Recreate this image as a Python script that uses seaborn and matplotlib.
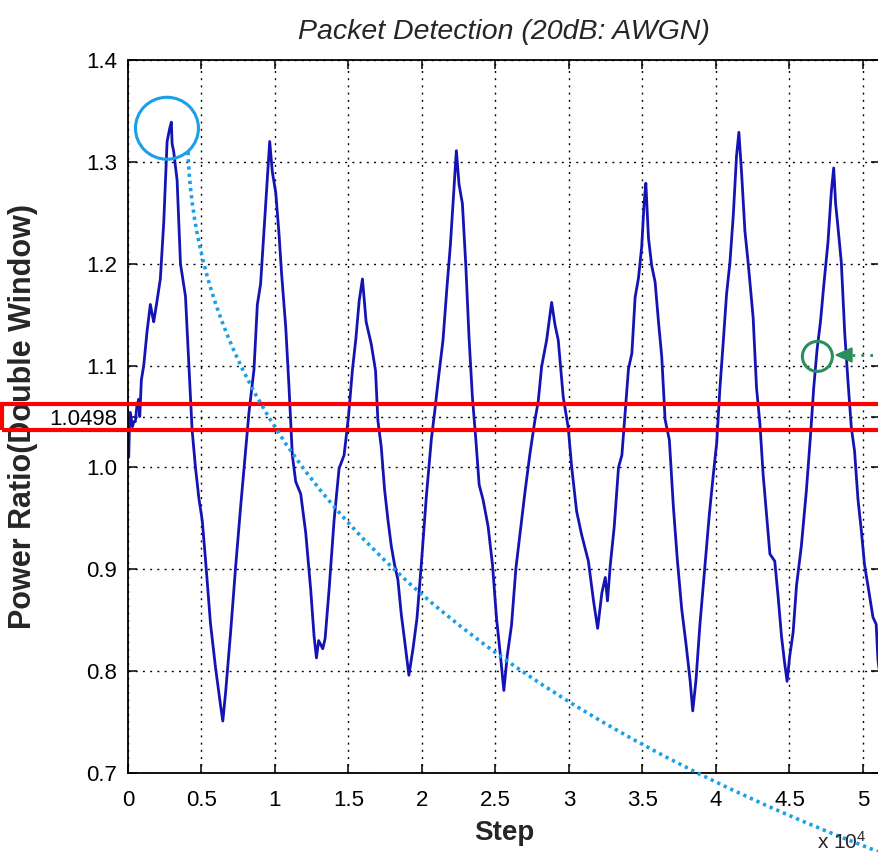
import numpy as np
import seaborn as sns
import matplotlib.pyplot as plt
import matplotlib.font_manager as fm
import matplotlib.transforms as mtrans
from matplotlib.patches import Ellipse, Rectangle, PathPatch, Polygon
from matplotlib.path import Path
from matplotlib.lines import Line2D

# step values in units of 10^4
step = [
    0.000, 0.005, 0.010, 0.016, 0.030, 0.040, 0.050, 0.060, 0.073, 0.080,
    0.091, 0.107, 0.130, 0.152, 0.165, 0.175, 0.198, 0.220, 0.243, 0.266,
    0.284, 0.295, 0.300, 0.311, 0.334, 0.357, 0.391, 0.414, 0.436, 0.459,
    0.482, 0.505, 0.527, 0.561, 0.595, 0.630, 0.645, 0.664, 0.698, 0.732,
    0.766, 0.800, 0.823, 0.857, 0.880, 0.902, 0.936, 0.964, 0.982, 1.005,
    1.027, 1.045, 1.073, 1.095, 1.118, 1.141, 1.175, 1.209, 1.243, 1.266,
    1.282, 1.297, 1.311, 1.325, 1.341, 1.368, 1.402, 1.436, 1.470, 1.500,
    1.527, 1.550, 1.573, 1.595, 1.620, 1.655, 1.684, 1.700, 1.723, 1.745,
    1.768, 1.791, 1.814, 1.836, 1.859, 1.882, 1.911, 1.939, 1.966, 1.995,
    2.030, 2.064, 2.086, 2.109, 2.143, 2.170, 2.193, 2.216, 2.234, 2.252,
    2.275, 2.298, 2.320, 2.343, 2.366, 2.389, 2.416, 2.450, 2.480, 2.507,
    2.534, 2.557, 2.580, 2.609, 2.639, 2.666, 2.700, 2.734, 2.768, 2.791,
    2.814, 2.848, 2.882, 2.905, 2.927, 2.961, 2.995, 3.018, 3.052, 3.086,
    3.132, 3.167, 3.195, 3.224, 3.247, 3.262, 3.281, 3.308, 3.337, 3.360,
    3.382, 3.405, 3.428, 3.450, 3.473, 3.495, 3.511, 3.523, 3.541, 3.563,
    3.586, 3.609, 3.631, 3.654, 3.683, 3.710, 3.738, 3.767, 3.796, 3.824,
    3.842, 3.864, 3.891, 3.925, 3.955, 3.982, 4.005, 4.027, 4.050, 4.072,
    4.095, 4.118, 4.140, 4.156, 4.174, 4.197, 4.219, 4.253, 4.276, 4.299,
    4.321, 4.344, 4.367, 4.400, 4.423, 4.446, 4.468, 4.484, 4.502, 4.525,
    4.548, 4.581, 4.615, 4.643, 4.665, 4.688, 4.711, 4.733, 4.762, 4.785,
    4.801, 4.814, 4.830, 4.853, 4.876, 4.898, 4.921, 4.943, 4.966, 4.989,
    5.011, 5.034, 5.068, 5.090, 5.102, 5.120,
]
power_ratio = [
    1.010, 1.010, 1.040, 1.054, 1.040, 1.045, 1.045, 1.060, 1.067, 1.050,
    1.086, 1.100, 1.134, 1.160, 1.150, 1.143, 1.164, 1.185, 1.240, 1.320,
    1.333, 1.339, 1.318, 1.310, 1.282, 1.200, 1.168, 1.100, 1.037, 1.000,
    0.970, 0.948, 0.910, 0.847, 0.804, 0.766, 0.751, 0.779, 0.838, 0.902,
    0.961, 1.016, 1.054, 1.096, 1.160, 1.180, 1.257, 1.320, 1.290, 1.270,
    1.230, 1.190, 1.138, 1.080, 1.012, 0.986, 0.974, 0.936, 0.880, 0.834,
    0.813, 0.830, 0.826, 0.822, 0.832, 0.880, 0.948, 0.999, 1.012, 1.050,
    1.096, 1.126, 1.164, 1.185, 1.143, 1.121, 1.095, 1.046, 1.020, 0.979,
    0.949, 0.923, 0.904, 0.890, 0.856, 0.830, 0.796, 0.822, 0.852, 0.904,
    0.972, 1.028, 1.054, 1.084, 1.125, 1.177, 1.218, 1.270, 1.311, 1.278,
    1.259, 1.199, 1.128, 1.069, 1.028, 0.983, 0.968, 0.942, 0.904, 0.852,
    0.815, 0.781, 0.815, 0.845, 0.901, 0.934, 0.975, 1.013, 1.046, 1.065,
    1.099, 1.125, 1.162, 1.140, 1.125, 1.069, 1.039, 1.001, 0.957, 0.934,
    0.908, 0.869, 0.842, 0.877, 0.892, 0.869, 0.904, 0.942, 1.000, 1.012,
    1.054, 1.097, 1.112, 1.167, 1.186, 1.217, 1.259, 1.279, 1.225, 1.198,
    1.182, 1.143, 1.109, 1.047, 1.027, 0.962, 0.908, 0.861, 0.827, 0.791,
    0.761, 0.791, 0.846, 0.904, 0.954, 0.993, 1.024, 1.078, 1.124, 1.170,
    1.201, 1.248, 1.306, 1.329, 1.290, 1.232, 1.201, 1.147, 1.078, 1.043,
    0.993, 0.954, 0.915, 0.908, 0.873, 0.834, 0.807, 0.790, 0.815, 0.838,
    0.884, 0.923, 0.977, 1.031, 1.078, 1.116, 1.143, 1.178, 1.221, 1.271,
    1.294, 1.259, 1.236, 1.201, 1.132, 1.085, 1.039, 1.016, 0.969, 0.938,
    0.904, 0.884, 0.853, 0.846, 0.811, 0.790,
]

threshold = 1.0498
x_ticks = [0, 0.5, 1, 1.5, 2, 2.5, 3, 3.5, 4, 4.5, 5]
x_tick_labels = ["0", "0.5", "1", "1.5", "2", "2.5", "3", "3.5", "4", "4.5", "5"]
y_ticks = [0.7, 0.8, 0.9, 1.0, threshold, 1.1, 1.2, 1.3, 1.4]
y_tick_labels = ["0.7", "0.8", "0.9", "1.0", "1.0498", "1.1", "1.2", "1.3", "1.4"]

sns.set_style("ticks")
names = {f.name for f in fm.fontManager.ttflist}
narrow = "Liberation Sans Narrow" in names
tick_font = "Liberation Sans Narrow" if narrow else "Liberation Sans"
tick_size = 18 if narrow else 16
plt.rcParams["font.family"] = [tick_font, "DejaVu Sans"]
plt.rcParams["mathtext.default"] = "regular"

W, H = 879, 852
fig = plt.figure(figsize=(W / 100, H / 100), dpi=100)
fig.patch.set_facecolor("white")
ax = fig.add_axes([128 / W, 79 / H, 752 / W, 713 / H])


def px(x, y):
    return (x / W, 1 - y / H)


sns.lineplot(x=np.array(step) * 1e4, y=power_ratio, ax=ax,
             color="#1414b4", linewidth=2.0)

ax.set_xlim(0, 5.116e4)
ax.set_ylim(0.7, 1.4)
ax.set_xticks(np.array(x_ticks) * 1e4, x_tick_labels)
ax.set_yticks(y_ticks, y_tick_labels)
ax.tick_params(direction="in", length=6.5, width=1.1, top=True, right=True,
               labelsize=tick_size, colors="black")
ax.tick_params(axis="y", pad=8)
ax.tick_params(axis="x", pad=12)
ax.grid(True, color="black", linestyle=(0, (1.4, 3.8)), linewidth=1.0)
for s in ax.spines.values():
    s.set_color("black")
    s.set_linewidth(1.3)
    s.set_visible(True)

ax.set_title("Packet Detection (20dB: AWGN)", fontsize=20.5, style="italic",
             family="Liberation Sans", pad=15)
ax.set_xlabel("Step", fontsize=20, fontweight="bold",
              family="Liberation Sans", labelpad=7)
ax.set_ylabel("Power Ratio(Double Window)", fontsize=22, fontweight="bold",
              family="Liberation Sans", labelpad=8)

fig.text(866 / W, 1 - 849 / H, r"x 10$^{4}$", fontsize=15,
         ha="right", va="baseline")

# red box around the threshold level
blend = mtrans.blended_transform_factory(fig.transFigure, ax.transData)
half = 13 / 1019
ax.add_patch(Rectangle((2 / W, threshold - half), 1.2, 2 * half,
                       transform=blend, fill=False, edgecolor="#ff0000",
                       linewidth=3, clip_on=False, zorder=5))

# blue circle at first peak and dotted curve
light_blue = "#1a9fe8"
ax.add_patch(Ellipse((0.265e4, 1.333), 63 / 147 * 1e4, 62 / 1019,
                     fill=False, edgecolor=light_blue, linewidth=2.2,
                     clip_on=False, zorder=5))
verts = [px(188, 152), px(200, 480), px(500, 710), px(890, 856)]
curve = Path(verts, [Path.MOVETO, Path.CURVE4, Path.CURVE4, Path.CURVE4])
fig.add_artist(PathPatch(curve, transform=fig.transFigure, fill=False,
                         edgecolor=light_blue, linewidth=2.6,
                         linestyle=(0, (0.9, 1.1)), capstyle="butt"))

# green circle with dotted arrow
green = "#2b8f5a"
ax.add_patch(Ellipse((4.69e4, 1.109), 30 / 147 * 1e4, 30 / 1019,
                     fill=False, edgecolor=green, linewidth=2.2,
                     clip_on=False, zorder=5))
fig.add_artist(Line2D([852 / W, 1.0], [1 - 355 / H, 1 - 355 / H],
                      transform=fig.transFigure, color=green, linewidth=2,
                      linestyle=(0, (1, 2.2))))
fig.add_artist(Polygon([px(836, 355), px(852, 348), px(852, 362)],
                       closed=True, transform=fig.transFigure,
                       facecolor=green, edgecolor=green))

plt.savefig("out.png", dpi=100)
